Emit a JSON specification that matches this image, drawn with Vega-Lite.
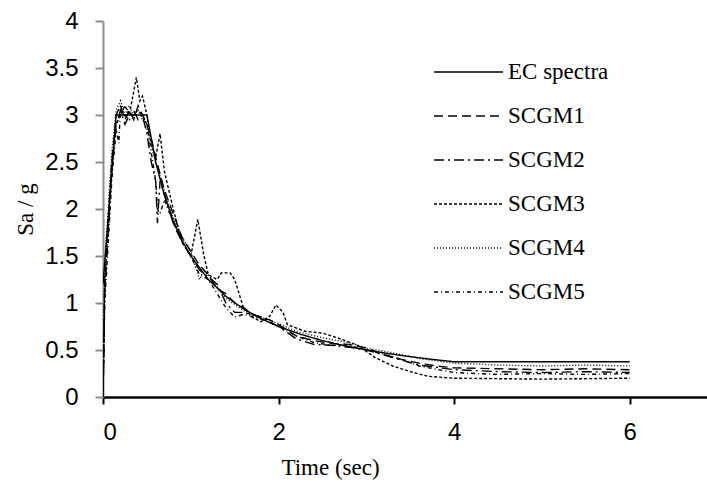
{
  "$schema": "https://vega.github.io/schema/vega-lite/v6.json",
  "width": 604,
  "height": 376,
  "autosize": {"type": "none"},
  "padding": {"left": 103, "top": 21, "right": 0, "bottom": 85},
  "background": "white",
  "config": {
    "view": {"stroke": null},
    "axis": {"grid": false}
  },
  "data": {
    "values": [
      {"s": "EC spectra", "t": 0, "sa": 1.2},
      {"s": "EC spectra", "t": 0.15, "sa": 3.0},
      {"s": "EC spectra", "t": 0.5, "sa": 3.0},
      {"s": "EC spectra", "t": 0.6, "sa": 2.5},
      {"s": "EC spectra", "t": 0.7, "sa": 2.143},
      {"s": "EC spectra", "t": 0.8, "sa": 1.875},
      {"s": "EC spectra", "t": 0.9, "sa": 1.667},
      {"s": "EC spectra", "t": 1.0, "sa": 1.5},
      {"s": "EC spectra", "t": 1.2, "sa": 1.25},
      {"s": "EC spectra", "t": 1.4, "sa": 1.071},
      {"s": "EC spectra", "t": 1.6, "sa": 0.9375},
      {"s": "EC spectra", "t": 1.8, "sa": 0.833},
      {"s": "EC spectra", "t": 2.0, "sa": 0.75},
      {"s": "EC spectra", "t": 2.25, "sa": 0.667},
      {"s": "EC spectra", "t": 2.5, "sa": 0.6},
      {"s": "EC spectra", "t": 2.75, "sa": 0.545},
      {"s": "EC spectra", "t": 3.0, "sa": 0.5},
      {"s": "EC spectra", "t": 3.25, "sa": 0.462},
      {"s": "EC spectra", "t": 3.5, "sa": 0.429},
      {"s": "EC spectra", "t": 3.75, "sa": 0.4},
      {"s": "EC spectra", "t": 4.0, "sa": 0.375},
      {"s": "EC spectra", "t": 6.0, "sa": 0.375},

      {"s": "SCGM1", "t": 0, "sa": 0},
      {"s": "SCGM1", "t": 0.02, "sa": 1.3},
      {"s": "SCGM1", "t": 0.1, "sa": 2.5},
      {"s": "SCGM1", "t": 0.15, "sa": 3.0},
      {"s": "SCGM1", "t": 0.2, "sa": 3.1},
      {"s": "SCGM1", "t": 0.25, "sa": 2.95},
      {"s": "SCGM1", "t": 0.3, "sa": 3.05},
      {"s": "SCGM1", "t": 0.35, "sa": 2.95},
      {"s": "SCGM1", "t": 0.4, "sa": 3.1},
      {"s": "SCGM1", "t": 0.45, "sa": 3.0},
      {"s": "SCGM1", "t": 0.5, "sa": 2.9},
      {"s": "SCGM1", "t": 0.55, "sa": 2.75},
      {"s": "SCGM1", "t": 0.6, "sa": 2.55},
      {"s": "SCGM1", "t": 0.7, "sa": 2.2},
      {"s": "SCGM1", "t": 0.8, "sa": 1.95},
      {"s": "SCGM1", "t": 0.9, "sa": 1.7},
      {"s": "SCGM1", "t": 1.0, "sa": 1.55},
      {"s": "SCGM1", "t": 1.1, "sa": 1.4},
      {"s": "SCGM1", "t": 1.2, "sa": 1.3},
      {"s": "SCGM1", "t": 1.3, "sa": 1.15},
      {"s": "SCGM1", "t": 1.4, "sa": 1.1},
      {"s": "SCGM1", "t": 1.5, "sa": 1.0},
      {"s": "SCGM1", "t": 1.6, "sa": 0.95},
      {"s": "SCGM1", "t": 1.7, "sa": 0.88},
      {"s": "SCGM1", "t": 1.8, "sa": 0.85},
      {"s": "SCGM1", "t": 1.9, "sa": 0.82},
      {"s": "SCGM1", "t": 2.0, "sa": 0.77},
      {"s": "SCGM1", "t": 2.2, "sa": 0.65},
      {"s": "SCGM1", "t": 2.4, "sa": 0.6},
      {"s": "SCGM1", "t": 2.6, "sa": 0.57},
      {"s": "SCGM1", "t": 2.8, "sa": 0.56},
      {"s": "SCGM1", "t": 3.0, "sa": 0.52},
      {"s": "SCGM1", "t": 3.2, "sa": 0.45},
      {"s": "SCGM1", "t": 3.4, "sa": 0.4},
      {"s": "SCGM1", "t": 3.6, "sa": 0.36},
      {"s": "SCGM1", "t": 3.8, "sa": 0.33},
      {"s": "SCGM1", "t": 4.0, "sa": 0.31},
      {"s": "SCGM1", "t": 4.5, "sa": 0.3},
      {"s": "SCGM1", "t": 5.0, "sa": 0.29},
      {"s": "SCGM1", "t": 5.5, "sa": 0.3},
      {"s": "SCGM1", "t": 6.0, "sa": 0.29},

      {"s": "SCGM2", "t": 0, "sa": 0},
      {"s": "SCGM2", "t": 0.02, "sa": 1.1},
      {"s": "SCGM2", "t": 0.1, "sa": 2.4},
      {"s": "SCGM2", "t": 0.15, "sa": 2.9},
      {"s": "SCGM2", "t": 0.2, "sa": 3.05},
      {"s": "SCGM2", "t": 0.25, "sa": 2.9},
      {"s": "SCGM2", "t": 0.3, "sa": 3.0},
      {"s": "SCGM2", "t": 0.35, "sa": 3.05},
      {"s": "SCGM2", "t": 0.4, "sa": 2.95},
      {"s": "SCGM2", "t": 0.45, "sa": 3.0},
      {"s": "SCGM2", "t": 0.5, "sa": 2.8},
      {"s": "SCGM2", "t": 0.55, "sa": 2.5},
      {"s": "SCGM2", "t": 0.6, "sa": 2.3},
      {"s": "SCGM2", "t": 0.62, "sa": 1.85},
      {"s": "SCGM2", "t": 0.65, "sa": 2.3},
      {"s": "SCGM2", "t": 0.7, "sa": 2.15},
      {"s": "SCGM2", "t": 0.8, "sa": 1.85},
      {"s": "SCGM2", "t": 0.9, "sa": 1.65},
      {"s": "SCGM2", "t": 1.0, "sa": 1.5},
      {"s": "SCGM2", "t": 1.1, "sa": 1.35},
      {"s": "SCGM2", "t": 1.2, "sa": 1.28},
      {"s": "SCGM2", "t": 1.3, "sa": 1.2},
      {"s": "SCGM2", "t": 1.4, "sa": 1.0},
      {"s": "SCGM2", "t": 1.5, "sa": 0.9},
      {"s": "SCGM2", "t": 1.6, "sa": 0.9},
      {"s": "SCGM2", "t": 1.8, "sa": 0.85},
      {"s": "SCGM2", "t": 2.0, "sa": 0.75},
      {"s": "SCGM2", "t": 2.2, "sa": 0.62},
      {"s": "SCGM2", "t": 2.4, "sa": 0.56},
      {"s": "SCGM2", "t": 2.6, "sa": 0.55},
      {"s": "SCGM2", "t": 2.8, "sa": 0.53},
      {"s": "SCGM2", "t": 3.0, "sa": 0.5},
      {"s": "SCGM2", "t": 3.3, "sa": 0.42},
      {"s": "SCGM2", "t": 3.6, "sa": 0.34},
      {"s": "SCGM2", "t": 4.0, "sa": 0.29},
      {"s": "SCGM2", "t": 4.5, "sa": 0.27},
      {"s": "SCGM2", "t": 5.0, "sa": 0.26},
      {"s": "SCGM2", "t": 5.5, "sa": 0.27},
      {"s": "SCGM2", "t": 6.0, "sa": 0.26},

      {"s": "SCGM3", "t": 0, "sa": 0},
      {"s": "SCGM3", "t": 0.02, "sa": 1.2},
      {"s": "SCGM3", "t": 0.1, "sa": 2.5},
      {"s": "SCGM3", "t": 0.15, "sa": 2.9},
      {"s": "SCGM3", "t": 0.2, "sa": 3.0},
      {"s": "SCGM3", "t": 0.25, "sa": 3.1},
      {"s": "SCGM3", "t": 0.3, "sa": 3.0},
      {"s": "SCGM3", "t": 0.35, "sa": 3.25},
      {"s": "SCGM3", "t": 0.38, "sa": 3.4},
      {"s": "SCGM3", "t": 0.42, "sa": 3.15},
      {"s": "SCGM3", "t": 0.45, "sa": 3.2},
      {"s": "SCGM3", "t": 0.5, "sa": 3.0},
      {"s": "SCGM3", "t": 0.55, "sa": 2.7},
      {"s": "SCGM3", "t": 0.6, "sa": 2.55},
      {"s": "SCGM3", "t": 0.65, "sa": 2.8},
      {"s": "SCGM3", "t": 0.7, "sa": 2.4},
      {"s": "SCGM3", "t": 0.8, "sa": 2.0},
      {"s": "SCGM3", "t": 0.9, "sa": 1.65},
      {"s": "SCGM3", "t": 1.0, "sa": 1.5},
      {"s": "SCGM3", "t": 1.08, "sa": 1.89},
      {"s": "SCGM3", "t": 1.15, "sa": 1.5},
      {"s": "SCGM3", "t": 1.2, "sa": 1.3},
      {"s": "SCGM3", "t": 1.3, "sa": 1.25},
      {"s": "SCGM3", "t": 1.35, "sa": 1.32},
      {"s": "SCGM3", "t": 1.45, "sa": 1.32},
      {"s": "SCGM3", "t": 1.5, "sa": 1.25},
      {"s": "SCGM3", "t": 1.55, "sa": 1.1},
      {"s": "SCGM3", "t": 1.6, "sa": 0.95},
      {"s": "SCGM3", "t": 1.7, "sa": 0.85},
      {"s": "SCGM3", "t": 1.8, "sa": 0.8},
      {"s": "SCGM3", "t": 1.9, "sa": 0.86},
      {"s": "SCGM3", "t": 1.97, "sa": 0.98},
      {"s": "SCGM3", "t": 2.05, "sa": 0.9},
      {"s": "SCGM3", "t": 2.1, "sa": 0.77},
      {"s": "SCGM3", "t": 2.3, "sa": 0.7},
      {"s": "SCGM3", "t": 2.5, "sa": 0.68},
      {"s": "SCGM3", "t": 2.7, "sa": 0.62},
      {"s": "SCGM3", "t": 2.9, "sa": 0.55},
      {"s": "SCGM3", "t": 3.1, "sa": 0.42},
      {"s": "SCGM3", "t": 3.3, "sa": 0.33},
      {"s": "SCGM3", "t": 3.5, "sa": 0.27},
      {"s": "SCGM3", "t": 3.7, "sa": 0.22},
      {"s": "SCGM3", "t": 4.0, "sa": 0.2},
      {"s": "SCGM3", "t": 5.0, "sa": 0.19},
      {"s": "SCGM3", "t": 6.0, "sa": 0.2},

      {"s": "SCGM4", "t": 0, "sa": 0},
      {"s": "SCGM4", "t": 0.02, "sa": 1.4},
      {"s": "SCGM4", "t": 0.1, "sa": 2.6},
      {"s": "SCGM4", "t": 0.15, "sa": 3.05},
      {"s": "SCGM4", "t": 0.2, "sa": 3.15},
      {"s": "SCGM4", "t": 0.25, "sa": 3.0},
      {"s": "SCGM4", "t": 0.3, "sa": 3.1},
      {"s": "SCGM4", "t": 0.35, "sa": 3.0},
      {"s": "SCGM4", "t": 0.4, "sa": 3.05},
      {"s": "SCGM4", "t": 0.45, "sa": 2.95},
      {"s": "SCGM4", "t": 0.5, "sa": 2.85},
      {"s": "SCGM4", "t": 0.6, "sa": 2.5},
      {"s": "SCGM4", "t": 0.7, "sa": 2.2},
      {"s": "SCGM4", "t": 0.8, "sa": 1.9},
      {"s": "SCGM4", "t": 0.9, "sa": 1.7},
      {"s": "SCGM4", "t": 1.0, "sa": 1.55},
      {"s": "SCGM4", "t": 1.05, "sa": 1.4},
      {"s": "SCGM4", "t": 1.1, "sa": 1.25},
      {"s": "SCGM4", "t": 1.15, "sa": 1.35},
      {"s": "SCGM4", "t": 1.2, "sa": 1.3},
      {"s": "SCGM4", "t": 1.4, "sa": 1.05},
      {"s": "SCGM4", "t": 1.6, "sa": 0.92},
      {"s": "SCGM4", "t": 1.8, "sa": 0.85},
      {"s": "SCGM4", "t": 2.0, "sa": 0.78},
      {"s": "SCGM4", "t": 2.2, "sa": 0.7},
      {"s": "SCGM4", "t": 2.5, "sa": 0.63},
      {"s": "SCGM4", "t": 2.8, "sa": 0.58},
      {"s": "SCGM4", "t": 3.0, "sa": 0.52},
      {"s": "SCGM4", "t": 3.3, "sa": 0.47},
      {"s": "SCGM4", "t": 3.6, "sa": 0.41},
      {"s": "SCGM4", "t": 4.0, "sa": 0.36},
      {"s": "SCGM4", "t": 4.5, "sa": 0.34},
      {"s": "SCGM4", "t": 5.0, "sa": 0.33},
      {"s": "SCGM4", "t": 5.5, "sa": 0.34},
      {"s": "SCGM4", "t": 6.0, "sa": 0.33},

      {"s": "SCGM5", "t": 0, "sa": 0},
      {"s": "SCGM5", "t": 0.02, "sa": 1.0},
      {"s": "SCGM5", "t": 0.1, "sa": 2.3},
      {"s": "SCGM5", "t": 0.15, "sa": 2.85},
      {"s": "SCGM5", "t": 0.18, "sa": 2.7},
      {"s": "SCGM5", "t": 0.2, "sa": 3.1},
      {"s": "SCGM5", "t": 0.25, "sa": 3.0},
      {"s": "SCGM5", "t": 0.3, "sa": 2.95},
      {"s": "SCGM5", "t": 0.35, "sa": 3.0},
      {"s": "SCGM5", "t": 0.4, "sa": 3.05},
      {"s": "SCGM5", "t": 0.45, "sa": 3.0},
      {"s": "SCGM5", "t": 0.5, "sa": 2.9},
      {"s": "SCGM5", "t": 0.55, "sa": 2.6},
      {"s": "SCGM5", "t": 0.6, "sa": 2.3},
      {"s": "SCGM5", "t": 0.62, "sa": 2.0},
      {"s": "SCGM5", "t": 0.65, "sa": 1.95},
      {"s": "SCGM5", "t": 0.7, "sa": 2.1},
      {"s": "SCGM5", "t": 0.8, "sa": 1.85},
      {"s": "SCGM5", "t": 0.9, "sa": 1.65},
      {"s": "SCGM5", "t": 1.0, "sa": 1.5},
      {"s": "SCGM5", "t": 1.1, "sa": 1.3},
      {"s": "SCGM5", "t": 1.2, "sa": 1.25},
      {"s": "SCGM5", "t": 1.3, "sa": 1.1},
      {"s": "SCGM5", "t": 1.4, "sa": 0.95},
      {"s": "SCGM5", "t": 1.5, "sa": 0.85},
      {"s": "SCGM5", "t": 1.6, "sa": 0.88},
      {"s": "SCGM5", "t": 1.8, "sa": 0.83},
      {"s": "SCGM5", "t": 2.0, "sa": 0.75},
      {"s": "SCGM5", "t": 2.2, "sa": 0.65},
      {"s": "SCGM5", "t": 2.4, "sa": 0.58},
      {"s": "SCGM5", "t": 2.6, "sa": 0.55},
      {"s": "SCGM5", "t": 2.8, "sa": 0.55},
      {"s": "SCGM5", "t": 3.0, "sa": 0.5},
      {"s": "SCGM5", "t": 3.3, "sa": 0.43},
      {"s": "SCGM5", "t": 3.6, "sa": 0.33},
      {"s": "SCGM5", "t": 4.0, "sa": 0.26},
      {"s": "SCGM5", "t": 4.5, "sa": 0.24},
      {"s": "SCGM5", "t": 5.0, "sa": 0.25},
      {"s": "SCGM5", "t": 5.5, "sa": 0.24},
      {"s": "SCGM5", "t": 6.0, "sa": 0.25}
    ]
  },
  "mark": {"type": "line", "color": "black", "strokeWidth": 1.4, "clip": true},
  "encoding": {
    "x": {
      "field": "t", "type": "quantitative",
      "scale": {"domain": [0, 6.88], "nice": false, "zero": false},
      "axis": {
        "values": [0, 2, 4, 6], "format": "d",
        "title": "Time (sec)",
        "titleFont": "Liberation Serif", "titleFontSize": 23, "titleFontWeight": "normal", "titleColor": "black",
        "titleX": 227, "titleY": 77, "titleAlign": "center", "titleBaseline": "alphabetic", "titleAnchor": null,
        "labelFont": "Liberation Sans", "labelFontSize": 24, "labelColor": "black", "labelPadding": 16,
        "domainColor": "black", "domainWidth": 2.5, "tickColor": "black", "tickWidth": 2, "tickSize": 7
      }
    },
    "y": {
      "field": "sa", "type": "quantitative",
      "scale": {"domain": [0, 4], "nice": false},
      "axis": {
        "values": [0, 0.5, 1, 1.5, 2, 2.5, 3, 3.5, 4], "format": "~g",
        "title": "Sa / g",
        "titleFont": "Liberation Serif", "titleFontSize": 23, "titleFontWeight": "normal", "titleColor": "black",
        "titleAngle": -90, "titleX": -71, "titleY": 188, "titleAlign": "center", "titleBaseline": "alphabetic", "titleAnchor": null,
        "labelFont": "Liberation Sans", "labelFontSize": 24, "labelColor": "black", "labelPadding": 17,
        "domainColor": "#8c8c8c", "domainWidth": 2, "tickColor": "#8c8c8c", "tickWidth": 2, "tickSize": 8
      }
    },
    "strokeDash": {
      "field": "s", "type": "nominal",
      "scale": {
        "domain": ["EC spectra", "SCGM1", "SCGM2", "SCGM3", "SCGM4", "SCGM5"],
        "range": [[1, 0], [9, 5], [10, 4, 2, 4], [3, 2], [1, 2], [4, 3, 1, 3]]
      },
      "legend": {
        "title": null, "orient": "none", "legendX": 330, "legendY": 27,
        "symbolType": "M-1,0H2", "symbolSize": 2116, "symbolStrokeWidth": 1.5, "symbolStrokeColor": "black", "symbolFillColor": "transparent", "symbolOpacity": 1,
        "labelFont": "Liberation Serif", "labelFontSize": 23, "labelColor": "black", "labelOffset": 27,
        "rowPadding": 8, "labelLimit": 300
      }
    }
  }
}
